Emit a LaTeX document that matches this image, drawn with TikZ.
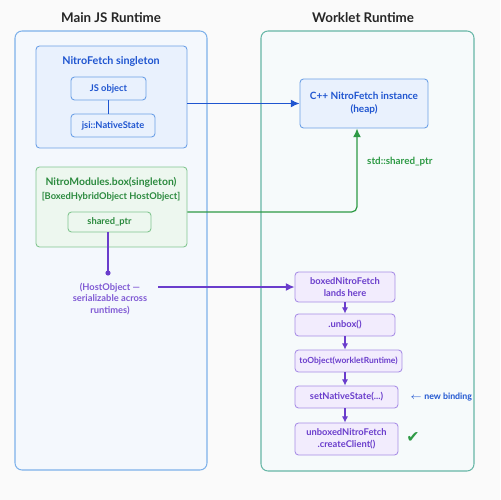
\documentclass[tikz,border=0pt]{standalone}
\usepackage{fontspec}
\setmainfont{Lato}
\newfontfamily\symfont{DejaVu Sans}
\usepackage{tikz}
\usetikzlibrary{arrows.meta}

\definecolor{jsblue}{HTML}{1F55D0}
\definecolor{jsline}{HTML}{6A9FE6}
\definecolor{jsfill}{HTML}{E9F1FD}
\definecolor{panblue}{HTML}{7DB1EA}
\definecolor{panfill}{HTML}{F4F8FD}
\definecolor{panteal}{HTML}{66B6A6}
\definecolor{tealfill}{HTML}{F6FAFB}
\definecolor{boxgreen}{HTML}{2B8A3E}
\definecolor{greenline}{HTML}{80C58F}
\definecolor{greenfill}{HTML}{EDF7EF}
\definecolor{arrgreen}{HTML}{2E9A45}
\definecolor{purp}{HTML}{6A3DCC}
\definecolor{purpline}{HTML}{A88EE6}
\definecolor{purpfill}{HTML}{F2ECFD}

\begin{document}
\begin{tikzpicture}[x=0.02cm,y=-0.02cm,
  title/.style={font=\fontsize{7.6}{8.5}\selectfont\bfseries,text=black!85},
  bluebox/.style={draw=jsline,fill=jsfill,rounded corners=2pt,line width=0.5pt,
    font=\fontsize{5.3}{6}\selectfont\bfseries,text=jsblue,align=center,inner sep=0pt},
  greenbox/.style={draw=greenline,fill=greenfill,rounded corners=2pt,line width=0.5pt,
    font=\fontsize{5.3}{6}\selectfont\bfseries,text=boxgreen,align=center,inner sep=0pt},
  flowbox/.style={draw=purpline,fill=purpfill,rounded corners=2pt,line width=0.5pt,
    font=\fontsize{5.3}{6.6}\selectfont\bfseries,text=purp,align=center,inner sep=0pt},
  flowarr/.style={-{Latex[length=3.5pt,width=3.5pt]},purp,line width=0.6pt}]
\useasboundingbox[fill=black!2] (0,0) rectangle (500,500);

% Main JS runtime
\draw[panblue,fill=panfill,rounded corners=4pt,line width=0.6pt] (15,31) rectangle (207,470);
\node[title] (jstitle) at (111,18) {Main JS Runtime};

\node[bluebox,minimum width=3.02cm,minimum height=2.04cm] (single) at (111.5,97) {};
\node[font=\fontsize{6.1}{7}\selectfont\bfseries,text=jsblue] (singletitle) at (111,61) {NitroFetch singleton};
\node[bluebox,minimum width=1.5cm,minimum height=0.46cm] (jsobj) at (108.5,88.5) {JS object};
\node[bluebox,minimum width=1.68cm,minimum height=0.46cm] (natstate) at (113,125.5) {jsi::NativeState};
\draw[jsblue,line width=0.6pt] (jsobj.south) -- (jsobj.south |- natstate.north);

\node[greenbox,minimum width=3.02cm,minimum height=1.6cm] (boxmod) at (111.5,207) {};
\node[font=\fontsize{5.9}{7}\selectfont\bfseries,text=boxgreen] (boxtitle) at (111,182) {NitroModules.box(singleton)};
\node[font=\fontsize{5.3}{6}\selectfont\bfseries,text=boxgreen] (boxsub) at (111,197) {[BoxedHybridObject HostObject]};
\node[greenbox,minimum width=1.66cm,minimum height=0.4cm] (sharedptr) at (109.5,222) {shared\_ptr};

\coordinate (dot) at (108,273);
\draw[purp,line width=0.6pt] (sharedptr.south -| dot) -- (dot);
\fill[purp] (dot) circle (2.6);
\node[font=\fontsize{5.3}{6.6}\selectfont\bfseries,text=purp!85,align=center] (hostnote) at (110,299)
  {(HostObject ---\\serializable across\\runtimes)};

% Worklet runtime
\draw[panteal,fill=tealfill,rounded corners=4pt,line width=0.6pt] (261,31) rectangle (474,471);
\node[title] (wktitle) at (363,18) {Worklet Runtime};

\node[bluebox,minimum width=2.56cm,minimum height=0.98cm,font=\fontsize{5.7}{7.4}\selectfont\bfseries] (cpp) at (364,103.5)
  {C++ NitroFetch instance\\(heap)};

\node[flowbox,minimum width=2cm,minimum height=0.6cm] (boxed) at (345,287) {boxedNitroFetch\\lands here};
\node[flowbox,minimum width=2cm,minimum height=0.44cm] (unbox) at (345,325) {.unbox()};
\node[flowbox,minimum width=2.14cm,minimum height=0.44cm,font=\fontsize{4.8}{6}\selectfont\bfseries] (toobj) at (348.5,361) {toObject(workletRuntime)};
\node[flowbox,minimum width=2.06cm,minimum height=0.44cm] (setns) at (346.5,397) {setNativeState(...)};
\node[flowbox,minimum width=2.06cm,minimum height=0.64cm] (client) at (346.5,439) {unboxedNitroFetch\\.createClient()};

\draw[flowarr] (boxed.south) -- (boxed.south |- unbox.north);
\draw[flowarr] (unbox.south) -- (unbox.south |- toobj.north);
\draw[flowarr] (unbox.south |- toobj.south) -- (unbox.south |- setns.north);
\draw[flowarr] (unbox.south |- setns.south) -- (unbox.south |- client.north);

\node[anchor=west,font=\fontsize{5}{6}\selectfont\bfseries,text=jsblue] (newbind) at (404,397) {$\leftarrow$ new binding};
\node[font=\symfont\fontsize{9}{10}\selectfont,text=arrgreen] (tick) at (413,438) {✔};

% cross-runtime connectors
\draw[-{Latex[length=5pt,width=4.5pt]},jsblue,line width=0.7pt] (single.east |- cpp.west) -- (cpp.west);
\draw[-{Latex[length=5pt,width=4.5pt]},arrgreen,line width=0.7pt,rounded corners=3pt]
  ([yshift=-0.1cm]boxmod.east) -| ([xshift=-0.14cm]cpp.south);
\node[anchor=west,font=\fontsize{5.6}{6}\selectfont\bfseries,text=arrgreen] (ptrlabel) at (361,162) {std::shared\_ptr};
\draw[-{Latex[length=5pt,width=4.5pt]},purp,line width=0.7pt] ([xshift=0.1cm]hostnote.east |- boxed.west) -- (boxed.west);
\end{tikzpicture}
\end{document}
